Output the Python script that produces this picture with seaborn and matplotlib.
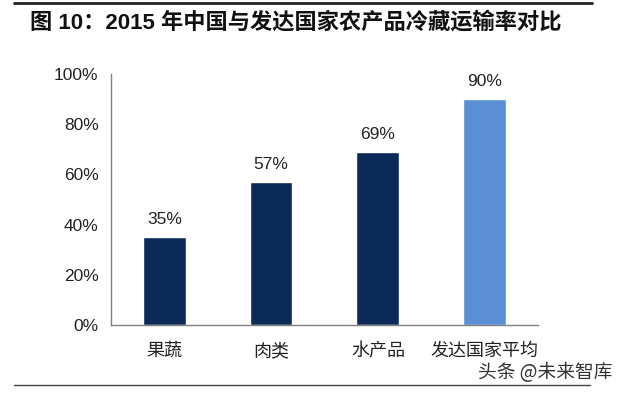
import matplotlib
matplotlib.use("Agg")
import matplotlib.pyplot as plt
import pandas as pd
import seaborn as sns

categories = ["果蔬", "肉类", "水产品", "发达国家平均"]
rates = [35, 57, 69, 90]
bar_colors = ["#0c2a58", "#0c2a58", "#0c2a58", "#5b8fd5"]
y_ticks = [0, 20, 40, 60, 80, 100]

sns.set_theme(style="white")
plt.rcParams["font.family"] = ["Liberation Sans", "Noto Sans CJK SC", "DejaVu Sans"]

df = pd.DataFrame({"cat": categories, "rate": rates})

fig = plt.figure(figsize=(6.24, 3.93), dpi=100)
ax = fig.add_axes([0.178, 0.173, 0.684, 0.639])
sns.barplot(data=df, x="cat", y="rate", hue="cat", palette=bar_colors,
            legend=False, width=0.4, saturation=1, ax=ax)

ax.set_ylim(0, 100)
ax.set_xlim(-0.5, 3.5)
ax.set_yticks(y_ticks)
ax.set_yticklabels([f"{t}%" for t in y_ticks], fontsize=12.5, color="#222222")
ax.set_xticks([-0.5, 0.5, 1.5, 2.5, 3.5], minor=False)
ax.set_xticklabels([])
ax.set_xticks(range(len(categories)), minor=True)
ax.set_xticklabels(categories, minor=True, fontsize=13, color="#222222")
ax.tick_params(axis="x", which="major", direction="out", length=5, color="#808080", width=1)
ax.tick_params(axis="x", which="minor", length=0, pad=13)
ax.tick_params(axis="y", direction="out", length=5, color="#808080", width=1, pad=4)
ax.set_xlabel("")
ax.set_ylabel("")
for side in ["top", "right"]:
    ax.spines[side].set_visible(False)
for side in ["left", "bottom"]:
    ax.spines[side].set_color("#808080")
    ax.spines[side].set_linewidth(1)

for i, v in enumerate(rates):
    ax.text(i, v + 4, f"{v}%", ha="center", va="bottom", fontsize=12.5, color="#222222")

fig.add_artist(plt.Line2D([0.022, 0.949], [0.992, 0.992], color="#222222", lw=2))
fig.add_artist(plt.Line2D([0.022, 0.946], [0.021, 0.021], color="#444444", lw=1))
fig.text(0.048, 0.942, "图 10：2015 年中国与发达国家农产品冷藏运输率对比",
         fontsize=16, fontweight="bold", va="center", ha="left",
         family=["Liberation Sans", "Noto Sans CJK SC"], color="#111111")
fig.text(0.982, 0.053, "头条 @未来智库", fontsize=13.5, ha="right", va="center",
         family=["Noto Sans CJK SC", "DejaVu Sans"], color="#333333")

fig.savefig("out.png", dpi=100)
